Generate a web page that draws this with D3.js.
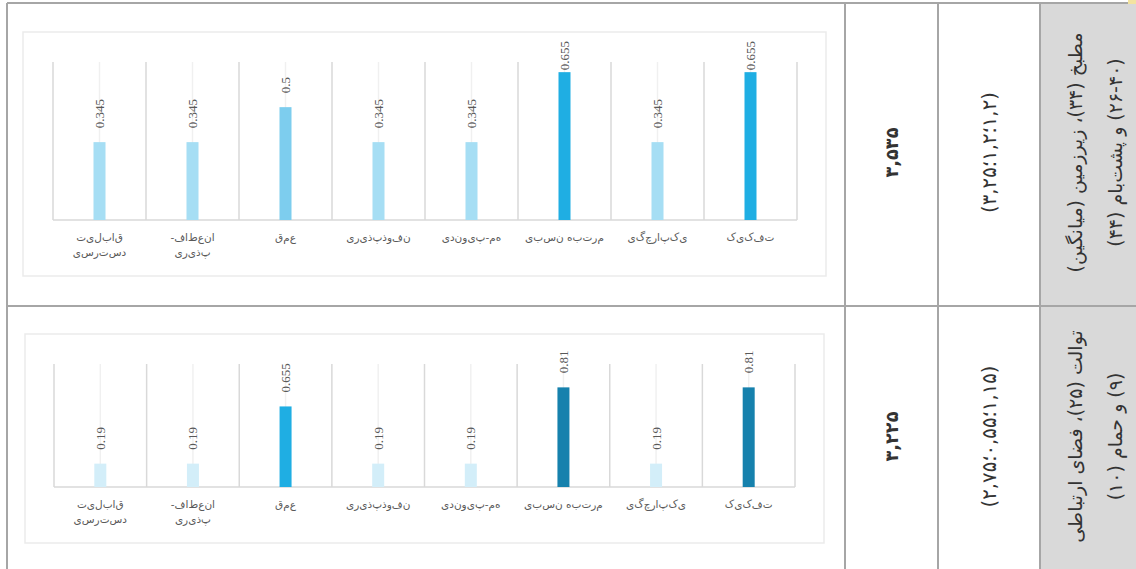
<!DOCTYPE html>
<html>
<head>
<meta charset="utf-8">
<script src="https://cdn.jsdelivr.net/npm/d3@7"></script>
<style>
body{margin:0;background:#fff}
svg{display:block}
</style>
</head>
<body>
<script>
// categories, left to right as in the picture
var categories = [["قابلیت","دسترسی"],["انعطاف-","پذیری"],["عمق"],["نفوذپذیری"],["هم-پیوندی"],["مرتبه نسبی"],["یکپارچگی"],["تفکیک"]]
var values1 = [0.345,0.345,0.5,0.345,0.345,0.655,0.345,0.655]
var values2 = [0.19,0.19,0.655,0.19,0.19,0.81,0.19,0.81]
var scores = ["۳,۵۳۵","۳,۲۲۵"]
var fuzzy = ["(۳,۲۵؛۱,۲؛۱,۲)","(۲,۷۵؛۰,۵۵؛۱,۱۵)"]
var spaces = [["مطبخ (۳۴)، زیرزمین (میانگین)","(۲۶-۴۰) و پشت‌بام (۴۴)"],["توالت (۲۵)، فضای ارتباطی","(۹) و حمام (۱۰)"]]

var barColor = d3.scaleOrdinal()
  .domain([0.19,0.345,0.5,0.655,0.81])
  .range(["#d3eef9","#a6def4","#7dcdee","#1faee3","#1681ad"])

var W = 1136, H = 569
var svg = d3.select("body").append("svg").attr("width",W).attr("height",H)

// table layout
var rows = [3,306,571]
var cols = [7,845,938,1040,1140]
var border = "#a6a6a6"

svg.append("rect").attr("x",cols[3]).attr("y",rows[0]).attr("width",cols[4]-cols[3]).attr("height",rows[2]-rows[0]).attr("fill","#d9d9d9")

var drawChart = function(values, box, plot, yMax)
{
  var g = svg.append("g")
  g.append("rect")
    .attr("x",box.x).attr("y",box.y).attr("width",box.w).attr("height",box.h)
    .attr("fill","#fff").attr("stroke","#ebebeb").attr("stroke-width",1.5)

  var x = d3.scaleBand().domain(d3.range(categories.length)).range([plot.left,plot.right])
  var y = d3.scaleLinear().domain([0,yMax]).range([plot.bottom,plot.top])
  var cx = function(i){ return x(i) + x.bandwidth()/2 }

  // light guide line through each category
  g.selectAll(".guide").data(values).enter().append("line")
    .attr("x1",function(d,i){return cx(i)}).attr("x2",function(d,i){return cx(i)})
    .attr("y1",y(yMax)).attr("y2",y(0))
    .attr("stroke","#f0f0f0").attr("stroke-width",1.5)

  var edges = x.domain().map(function(i){return x(i)}).concat([plot.right])
  g.selectAll(".grid").data(edges).enter().append("line")
    .attr("x1",function(d){return d}).attr("x2",function(d){return d})
    .attr("y1",y(yMax)).attr("y2",y(0))
    .attr("stroke","#d9d9d9").attr("stroke-width",1.5)

  g.append("line")
    .attr("x1",plot.left).attr("x2",plot.right).attr("y1",y(0)).attr("y2",y(0))
    .attr("stroke","#d9d9d9").attr("stroke-width",1.5)

  g.selectAll(".bar").data(values).enter().append("rect")
    .attr("x",function(d,i){return cx(i)-6})
    .attr("width",12)
    .attr("y",function(d){return y(d)})
    .attr("height",function(d){return y(0)-y(d)})
    .attr("fill",function(d){return barColor(d)})

  g.selectAll(".val").data(values).enter().append("text")
    .attr("font-family","Liberation Serif, serif")
    .attr("font-size",13)
    .attr("fill","#595959")
    .attr("text-anchor","start")
    .attr("dominant-baseline","central")
    .text(function(d){return String(d)})
    .attr("transform",function(d,i)
    {
      var len = this.getComputedTextLength()
      var pos = Math.max(y(d)-14, box.y+9+len)
      return "translate(" + cx(i) + "," + pos + ") rotate(-90)"
    })

  var lab = g.selectAll(".cat").data(categories).enter().append("text")
    .attr("font-family","DejaVu Sans, sans-serif")
    .attr("font-size",10.5)
    .attr("fill","#595959")
    .attr("text-anchor","middle")
    .attr("letter-spacing","2px")
    .style("direction","rtl")
  lab.each(function(d,i)
  {
    var t = d3.select(this)
    d.forEach(function(line,k)
    {
      // letters drawn apart, as in the source chart
      t.append("tspan").attr("x",cx(i)).attr("y",y(0)+21+k*15).text(line.split("").join("\u200c"))
    })
  })
}

drawChart(values1,{x:23,y:32,w:803,h:244},{left:53,right:797,top:62,bottom:220},0.7)
drawChart(values2,{x:25,y:334,w:799,h:209},{left:54,right:795,top:364,bottom:487},1)

// fit a text to a length
var fitSize = function(sel, base, target)
{
  sel.attr("font-size",base)
  var len = sel.node().getComputedTextLength()
  return base*target/len
}

var scoreSize = null
scores.forEach(function(s,r)
{
  var cy = (rows[r]+rows[r+1])/2 - 2
  var t = svg.append("text")
    .attr("font-family","DejaVu Sans, sans-serif")
    .attr("font-weight","bold")
    .attr("fill","#333")
    .attr("text-anchor","middle")
    .attr("dominant-baseline","central")
    .style("direction","ltr")
    .attr("transform","translate(" + (cols[1]+cols[2])/2 + "," + cy + ") rotate(-90)")
    .text(s)
  if(scoreSize==null){ scoreSize = fitSize(t,16,50) }
  t.attr("font-size",scoreSize)
})

var fuzzySize = null
fuzzy.forEach(function(s,r)
{
  var cy = (rows[r]+rows[r+1])/2 - 2
  var t = svg.append("text")
    .attr("font-family","DejaVu Sans, sans-serif")
    .attr("fill","#333")
    .attr("text-anchor","middle")
    .attr("dominant-baseline","central")
    .style("direction","ltr")
    .style("unicode-bidi","bidi-override")
    .attr("transform","translate(" + (cols[2]+cols[3])/2 + "," + cy + ") rotate(-90)")
    .text(s)
  if(fuzzySize==null){ fuzzySize = fitSize(t,15,121) }
  t.attr("font-size",fuzzySize)
})

var spaceSize = null
spaces.forEach(function(lines,r)
{
  var cy = (rows[r]+rows[r+1])/2 - 2
  lines.forEach(function(s,k)
  {
    var t = svg.append("text")
      .attr("font-family","DejaVu Sans, sans-serif")
      .attr("fill","#333")
      .attr("text-anchor","middle")
      .attr("dominant-baseline","central")
      .style("direction","rtl")
      .attr("transform","translate(" + (1075+k*40) + "," + cy + ") rotate(-90)")
      .text(s)
    if(spaceSize==null){ spaceSize = fitSize(t,16,240) }
    t.attr("font-size",spaceSize)
  })
})

// table rules
svg.selectAll(".hrule").data(rows).enter().append("line")
  .attr("x1",cols[0]).attr("x2",W).attr("y1",function(d){return d}).attr("y2",function(d){return d})
  .attr("stroke",border).attr("stroke-width",2)
svg.selectAll(".vrule").data(cols).enter().append("line")
  .attr("x1",function(d){return d}).attr("x2",function(d){return d}).attr("y1",rows[0]).attr("y2",H)
  .attr("stroke",border).attr("stroke-width",2)

svg.append("rect").attr("x",1128).attr("y",0).attr("width",8).attr("height",4).attr("fill","#f3e3a0")
</script>
</body>
</html>
